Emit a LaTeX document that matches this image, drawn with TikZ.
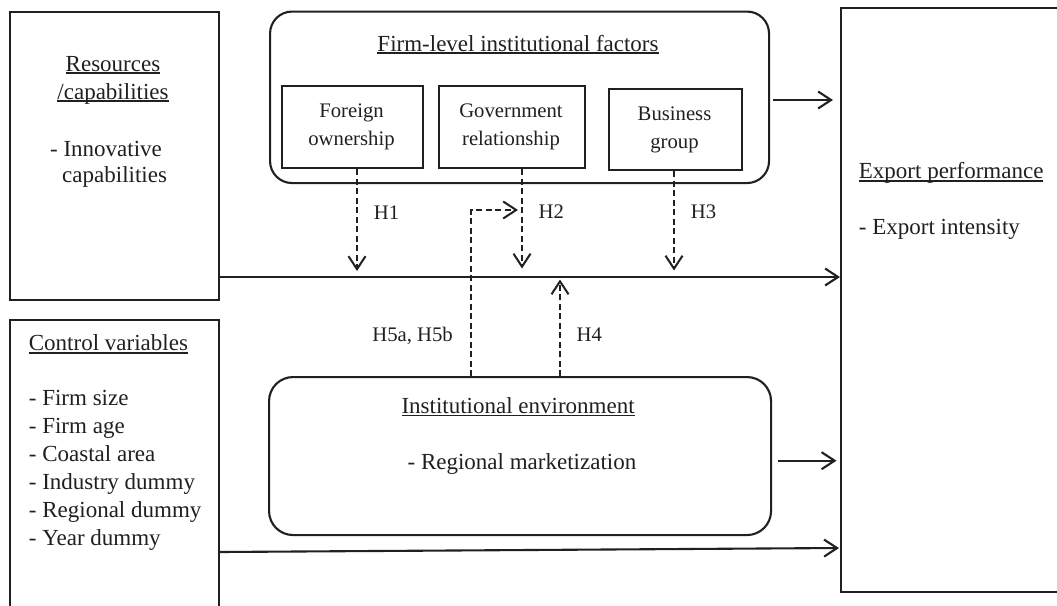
\documentclass[tikz,border=0pt]{standalone}
\usepackage{fontspec}
\setmainfont{Liberation Serif}
\usetikzlibrary{arrows.meta}
\definecolor{ink}{HTML}{231F20}
\newcommand{\ulx}[1]{\setbox0=\hbox{#1}\rlap{\rule[-2.8pt]{\wd0}{1.6pt}}\box0}
\begin{document}
\begin{tikzpicture}[x=1pt,y=-1pt,
  box/.style={draw=ink, line width=2.1pt, inner sep=0pt, anchor=north west},
  big/.style={font=\fontsize{23}{27.8}\selectfont, text=ink, inner sep=0pt},
  small/.style={font=\fontsize{20.7}{27.8}\selectfont, text=ink, inner sep=0pt},
  arr/.style={draw=ink, line width=2.1pt, -{Straight Barb[length=13pt,width=17pt]}},
  darr/.style={arr, line width=2pt, dash pattern=on 6pt off 3.5pt}
]
\useasboundingbox[fill=white] (0,0) rectangle (1057,605);

% boxes
\node[box, minimum width=209pt, minimum height=288.5pt] (res) at (9,10.5) {};
\node[box, minimum width=209pt, minimum height=300pt] (ctl) at (9,319) {};
\node[box, rounded corners=22pt, minimum width=499pt, minimum height=171.5pt] (firm) at (269,10.5) {};
\node[box, minimum width=141pt, minimum height=82pt] (fo) at (281,85) {};
\node[box, minimum width=146pt, minimum height=82pt] (go) at (438,85) {};
\node[box, minimum width=133pt, minimum height=81pt] (bg) at (608,88) {};
\node[box, minimum width=240pt, minimum height=584pt] (exp) at (840,7) {};
\node[box, rounded corners=24pt, minimum width=502pt, minimum height=158pt] (ie) at (268,376) {};

% texts
\node[big, anchor=base] (tres1) at (113,71) {\ulx{Resources}};
\node[big, anchor=base] (tres2) at (113,99) {\ulx{/capabilities}};
\node[big, anchor=base] (tres3) at (106,156) {- Innovative};
\node[big, anchor=base] (tres4) at (114.6,182.5) {capabilities};

\node[big, anchor=base] (tfirm) at (518,51) {\ulx{Firm-level institutional factors}};
\node[small, anchor=base] (tfo1) at (351.5,117.6) {Foreign};
\node[small, anchor=base] (tfo2) at (351.5,145.4) {ownership};
\node[small, anchor=base] (tgo1) at (511,117.6) {Government};
\node[small, anchor=base] (tgo2) at (511,145.4) {relationship};
\node[small, anchor=base] (tbg1) at (674.5,120) {Business};
\node[small, anchor=base] (tbg2) at (674.5,148) {group};

\node[big, anchor=base west] (texp1) at (858.7,178.8) {\ulx{Export performance}};
\node[big, anchor=base west] (texp2) at (858.7,234.6) {- Export intensity};

\node[big, anchor=base west] (tctl0) at (28.7,350.7) {\ulx{Control variables}};
\node[big, anchor=base west] (tctl1) at (28.7,405.8) {- Firm size};
\node[big, anchor=base west] (tctl2) at (28.7,433.65) {- Firm age};
\node[big, anchor=base west] (tctl3) at (28.7,461.5) {- Coastal area};
\node[big, anchor=base west] (tctl4) at (28.7,489.35) {- Industry dummy};
\node[big, anchor=base west] (tctl5) at (28.7,517.2) {- Regional dummy};
\node[big, anchor=base west] (tctl6) at (28.7,545.05) {- Year dummy};

\node[big, anchor=base west] (tie1) at (401.3,413.5) {\ulx{Institutional environment}};
\node[big, anchor=base west] (tie2) at (407.4,469) {- Regional marketization};

\node[small, anchor=base west] (lh1) at (373.6,219) {H1};
\node[small, anchor=base west] (lh2) at (538.4,218) {H2};
\node[small, anchor=base west] (lh3) at (690.7,218) {H3};
\node[small, anchor=base east] (lh5) at (453,341) {H5a, H5b};
\node[small, anchor=base west] (lh4) at (576.5,341) {H4};

% helper coordinates
\coordinate (ym) at (0,277);
\coordinate (yf) at (0,100);
\coordinate (yi) at (0,460.7);
\coordinate (yc1) at (0,552);
\coordinate (yc2) at (0,548);
\coordinate (h1) at (357,271);
\coordinate (h2) at (522,268.5);
\coordinate (h3) at (674,270.5);
\coordinate (h4) at (560,279.5);
\coordinate (h5s) at (471,0);
\coordinate (h5t) at (518,210);

% solid connectors
\draw[arr] (res.east |- ym) -- (exp.west |- ym);
\draw[arr, shorten <=3pt, shorten >=7pt] (firm.east |- yf) -- (exp.west |- yf);
\draw[arr, shorten <=6pt, shorten >=3.5pt] (ie.east |- yi) -- (exp.west |- yi);
\draw[arr, shorten >=1pt] (ctl.east |- yc1) -- (exp.west |- yc2);

% dashed connectors
\draw[darr] (fo.south -| h1) -- (h1);
\draw[darr] (go.south -| h2) -- (h2);
\draw[darr] (bg.south -| h3) -- (h3);
\draw[darr] (ie.north -| h4) -- (h4);
\draw[darr] (ie.north -| h5s) |- (h5t);
\end{tikzpicture}
\end{document}
